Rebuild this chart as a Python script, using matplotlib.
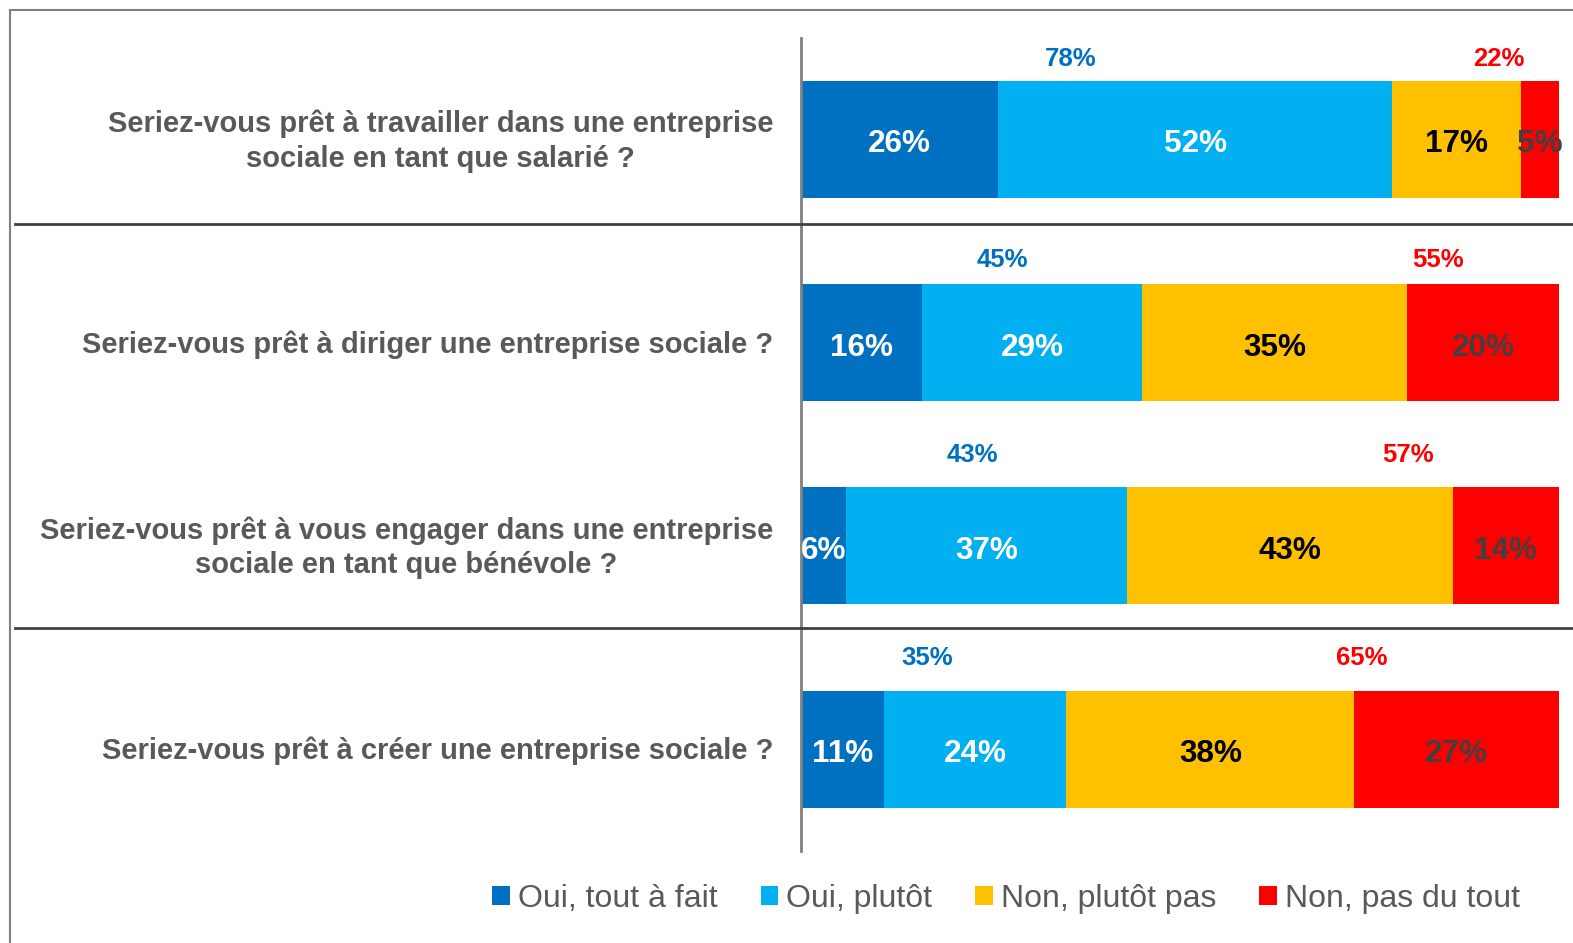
import matplotlib
matplotlib.use("Agg")
import matplotlib.pyplot as plt
from matplotlib.patches import Patch, Rectangle
from matplotlib.lines import Line2D
import numpy as np

plt.rcParams['font.family'] = ['Liberation Sans', 'DejaVu Sans']

# ---------------- data ----------------
questions = [
    "Seriez-vous prêt à travailler dans une entreprise\nsociale en tant que salarié ?",
    "Seriez-vous prêt à diriger une entreprise sociale ?",
    "Seriez-vous prêt à vous engager dans une entreprise\nsociale en tant que bénévole ?",
    "Seriez-vous prêt à créer une entreprise sociale ?",
]
series_names = ["Oui, tout à fait", "Oui, plutôt", "Non, plutôt pas", "Non, pas du tout"]
oui_tout_a_fait = [26, 16, 6, 11]
oui_plutot = [52, 29, 37, 24]
non_plutot_pas = [17, 35, 43, 38]
non_pas_du_tout = [5, 20, 14, 27]
total_oui = [78, 45, 43, 35]
total_non = [22, 55, 57, 65]

# ---------------- styles ----------------
colors = ["#0070C0", "#00B0F0", "#FFC000", "#FF0000"]
label_colors = ["white", "white", "black", "#404040"]
text_gray = "#595959"
# placement of the total labels (in axis units)
total_oui_x = [35.6, 26.6, 22.6, 16.7]
total_non_x = [92.0, 84.1, 80.1, 74.0]
total_y_off = [0.395, 0.405, 0.445, 0.45]

W, H = 1573, 943
fig = plt.figure(figsize=(W / 100, H / 100), dpi=100)

ax_left, ax_right = 801, 1559
ax_top, ax_bot = 37.5, 850.8
ax = fig.add_axes([ax_left / W, 1 - ax_bot / H, (ax_right - ax_left) / W, (ax_bot - ax_top) / H])

series = [oui_tout_a_fait, oui_plutot, non_plutot_pas, non_pas_du_tout]
y = np.arange(len(questions))
left = np.zeros(len(questions))
bar_h = 0.575
for vals, col, lcol in zip(series, colors, label_colors):
    vals = np.array(vals, dtype=float)
    ax.barh(y, vals, left=left, height=bar_h, color=col, edgecolor='none')
    for yi, (l, v) in enumerate(zip(left, vals)):
        ax.text(l + v / 2, yi + 0.025, f"{int(v)}%", ha='center', va='center',
                color=lcol, fontsize=22.7, fontweight='bold', clip_on=False)
    left += vals

for yi in range(len(questions)):
    ax.text(total_oui_x[yi], yi - total_y_off[yi], f"{total_oui[yi]}%", ha='center', va='center',
            color="#0070C0", fontsize=18.5, fontweight='bold')
    ax.text(total_non_x[yi], yi - total_y_off[yi], f"{total_non[yi]}%", ha='center', va='center',
            color="#FF0000", fontsize=18.5, fontweight='bold')

ax.set_xlim(0, 100)
ax.set_ylim(len(questions) - 0.5, -0.5)
ax.set_xticks([])
ax.set_yticks([])
for s in ['top', 'right', 'bottom']:
    ax.spines[s].set_visible(False)
ax.spines['left'].set_color('#808080')
ax.spines['left'].set_linewidth(2)

# question labels
for yi, q in enumerate(questions):
    fig.text(773 / W, 1 - (ax_top + (yi + 0.5) * (ax_bot - ax_top) / 4 + 2) / H, q,
             ha='right', va='center', multialignment='center', color=text_gray,
             fontsize=21, fontweight='bold', linespacing=1.3)

# separator lines
for ypx in [224, 628]:
    fig.add_artist(Line2D([15 / W, 1.0], [1 - ypx / H, 1 - ypx / H], transform=fig.transFigure,
                          color='#404040', linewidth=2))

# outer frame
fig.add_artist(Rectangle((10 / W, -0.05), 1.2, 1 - 10 / H + 0.05, transform=fig.transFigure,
                         fill=False, edgecolor='#808080', linewidth=1.5))

handles = [Patch(facecolor=c, edgecolor='none') for c in colors]
fig.legend(handles, series_names, loc='center', bbox_to_anchor=(1006 / W, 1 - 899 / H),
           ncol=4, frameon=False, fontsize=23, handlelength=0.55, handleheight=0.55,
           handletextpad=0.25, columnspacing=1.35, labelcolor=text_gray)

fig.savefig("out.png", dpi=100)
